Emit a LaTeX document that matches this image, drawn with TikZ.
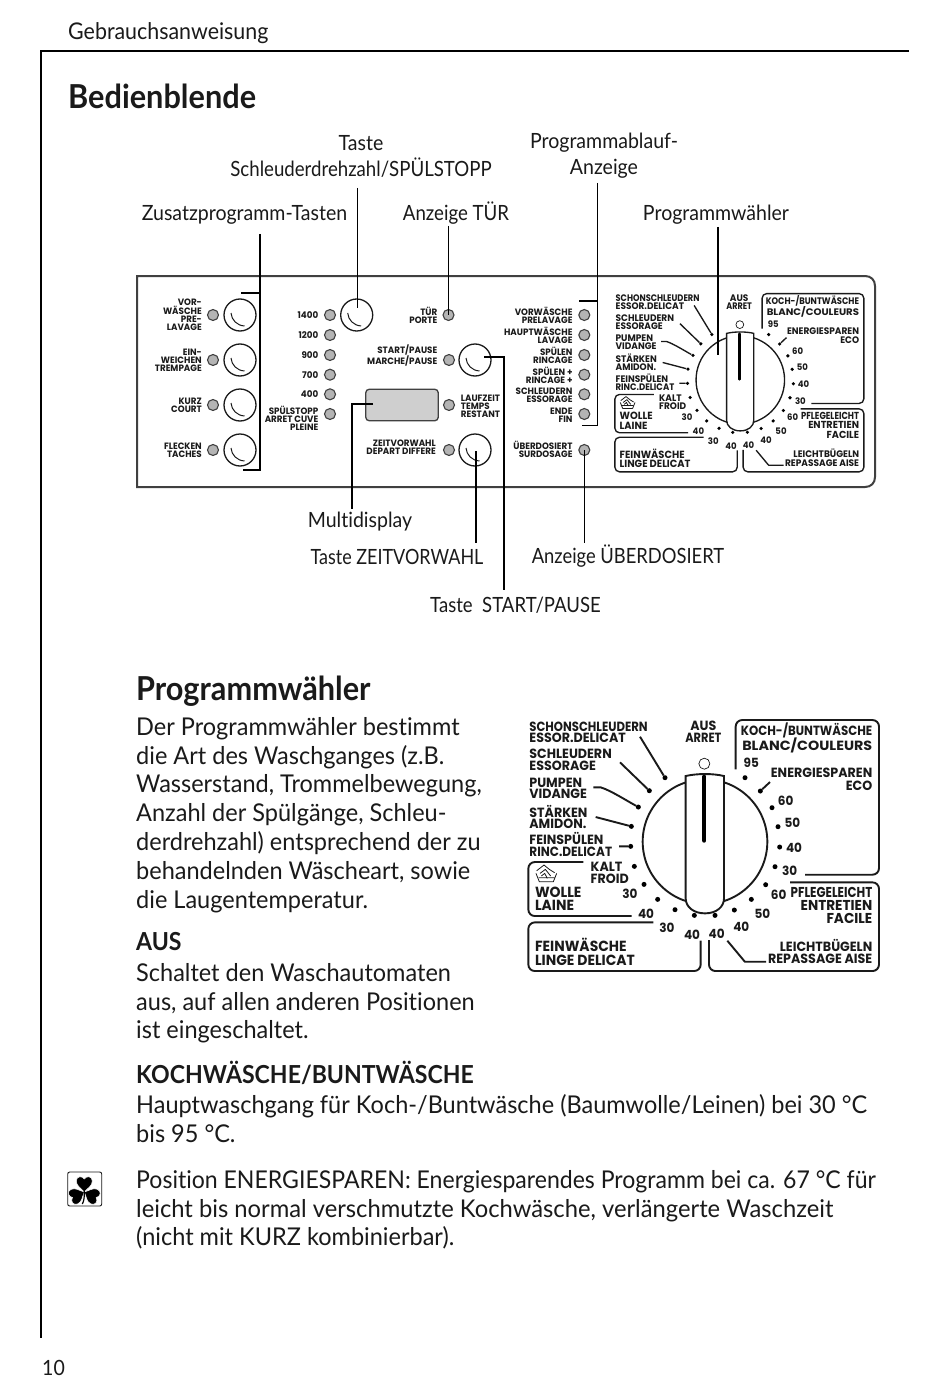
\documentclass[tikz,border=0pt]{standalone}
\usepackage{fontspec}
\setmainfont[FakeStretch=0.96,Ligatures={NoCommon}]{Lato}
\newfontfamily\capf[FakeStretch=0.93,Ligatures={NoCommon}]{Lato}
\newfontfamily\labfont[FakeStretch=0.95]{Poppins}
\usetikzlibrary{calc}
\newcommand{\sx}[2]{\scalebox{#1}[1]{#2}}
\definecolor{ink}{HTML}{1A1A1A}
\definecolor{panelline}{HTML}{404040}
\definecolor{ledfill}{HTML}{B4B4B4}
\definecolor{dispfill}{HTML}{CFCFCF}
\tikzset{
  bodytxt/.style={anchor=north west,align=left,inner sep=0pt,text=ink,font=\fontsize{24.5}{28.8}\selectfont},
  captxt/.style={inner sep=0pt,text=ink,font=\capf\fontsize{21}{26}\selectfont},
  headtxt/.style={anchor=west,inner sep=0pt,text=ink,font=\capf\fontsize{33}{36}\selectfont\bfseries},
  bodyhead/.style={anchor=west,inner sep=0pt,text=ink,font=\capf\fontsize{24.8}{30}\selectfont\bfseries},
  conn/.style={draw=black,line width=1.5pt},
  led/.style={circle,draw=panelline,fill=ledfill,line width=1.1pt,minimum size=11pt,inner sep=0pt},
  knobc/.style={circle,draw=ink,line width=1.3pt,minimum size=32pt,inner sep=0pt},
  pl/.style={inner sep=0pt,align=right,anchor=east,text=ink,font=\labfont\bfseries\fontsize{9.2}{8}\selectfont},
  pll/.style={inner sep=0pt,align=left,anchor=west,text=ink,font=\labfont\bfseries\fontsize{9.2}{8}\selectfont},
  dl/.style={inner sep=0pt,align=left,anchor=west,text=ink,transform shape,font=\labfont\bfseries\fontsize{40}{35}\selectfont},
  dr/.style={inner sep=0pt,align=right,anchor=east,text=ink,transform shape,font=\labfont\bfseries\fontsize{40}{36.5}\selectfont},
  dc/.style={inner sep=0pt,align=center,text=ink,transform shape,font=\labfont\bfseries\fontsize{40}{36}\selectfont},
  dbig/.style={inner sep=0pt,align=left,anchor=west,text=ink,transform shape,font=\labfont\bfseries\fontsize{44}{40}\selectfont},
  dn/.style={inner sep=0pt,text=ink,transform shape,font=\labfont\bfseries\fontsize{38}{38}\selectfont},
  ddot/.style={circle,fill=black,minimum size=15pt,inner sep=0pt,transform shape},
}
\newcommand{\knobarc}[1]{\draw[ink,line width=1pt] ([shift={(-9,-2)}]#1.center) .. controls ([shift={(-8.5,5)}]#1.center) and ([shift={(-3,10.5)}]#1.center) .. ([shift={(4.5,11)}]#1.center);}
\newcommand{\dial}[4]{%
\pgfmathsetmacro{\dlw}{#4*1.9}\pgfmathsetmacro{\drr}{#4*6.5}\pgfmathsetmacro{\ptrw}{#4*4}
\begin{scope}[shift={(#2,#3)},scale=#4/3,shift={(-555,-395)},name prefix=#1-,
  dbox/.style={draw=ink,line width=\dlw pt,rounded corners=\drr pt}]
  \path[dbox] (647,178) -- (647,30) -- (1077,30) -- (1077,494) -- (855,494);
  \path[dbox] (810,517) -- (1077,517) -- (1077,783) -- (567,783) -- (567,690);
  \path[dbox] (400,637) -- (25,637) -- (25,783) -- (542,783) -- (542,692);
  \path[dbox] (190,456) -- (25,456) -- (25,618) -- (335,618);
  \draw[ink,line width=\dlw pt] (555,395) circle[radius=187];
  \draw[ink,line width=\dlw pt,fill=white] (497,565) -- (497,198) .. controls (530,190) and (580,190) .. (612,198) -- (612,565) .. controls (612,590) and (590,610) .. (555,610) .. controls (520,610) and (497,590) .. (497,565) -- cycle;
  \draw[black,line width=\ptrw pt,line cap=round] (553,200) -- (553,392);
  \node[circle,draw=ink,line width=0.7pt,fill=white,minimum size=33pt,inner sep=0pt,transform shape] (off) at (553,161) {};
  \foreach \n/\x/\y in {a/435/203,b/388/242,c/355/291,d/334/349,e/332/409,f/343/469,g/372/523,h/413/568,i/465/599,j/523/616,k/585/616,l/643/600,m/694/568,n/737/524,o/765/470,p/779/411,q/774/350,r/756/293,s/721/243,t/675/203}
    \node[ddot] (\n) at (\x,\y) {};
  \coordinate (sa) at (360,80); \coordinate (sb) at (300,157); \coordinate (sc) at (220,232);
  \coordinate (sd) at (227,321); \coordinate (se) at (297,409); \coordinate (ss) at (750,216);
  \coordinate (rp) at (622,692); \coordinate (rq) at (738,755);
  \draw[ink,line width=\dlw pt] (sa) -- (a); \draw[ink,line width=\dlw pt] (sb) -- (b);
  \draw[ink,line width=\dlw pt] (sc) -- (242,232) .. controls (270,240) and (320,272) .. (c);
  \draw[ink,line width=\dlw pt] (sd) -- (d); \draw[ink,line width=\dlw pt] (se) -- (e);
  \draw[ink,line width=\dlw pt] (ss) -- (s);
  \draw[ink,line width=\dlw pt] (rp) -- (672,752) -- (675,755) -- (rq);
  \node[dl] (n1) at (28,67) {\sx{.92}{SCHONSCHLEUDERN}\\ESSOR.DELICAT};
  \node[dl] (n2) at (28,150) {SCHLEUDERN\\ESSORAGE};
  \node[dl] (n3) at (28,235) {PUMPEN\\VIDANGE};
  \node[dl] (n4) at (28,321) {STÄRKEN\\AMIDON.};
  \node[dl] (n5) at (28,403) {FEINSPÜLEN\\\sx{.95}{RINC.DELICAT}};
  \node[dl] (n6) at (212,488) {KALT\\FROID};
  \node[dbig] (n7) at (45,567) {WOLLE\\LAINE};
  \node[dbig] (n8) at (45,725) {FEINWÄSCHE\\LINGE DELICAT};
  \node[dc] (n9) at (550,66) {AUS\\\sx{.9}{ARRET}};
  \node[dr] (n10) at (1057,84) {\sx{.93}{KOCH-/BUNTWÄSCHE}\\\sx{1.13}{BLANC/COULEURS}};
  \node[dr] (n11) at (1057,208) {ENERGIESPAREN\\ECO};
  \node[dr,font=\labfont\bfseries\fontsize{43}{39}\selectfont] (n12) at (1057,586) {\sx{.87}{PFLEGELEICHT}\\ENTRETIEN\\FACILE};
  \node[dr] (n13) at (1057,724) {LEICHTBÜGELN\\REPASSAGE AISE};
  \foreach \n/\t/\x/\y in {a/95/694/159,b/60/797/272,c/50/817/339,d/40/822/413,e/30/809/483,f/60/776/553,g/50/727/610,h/40/664/651,i/40/590/671,j/40/516/675,k/30/441/652,l/40/378/610,m/30/330/551}
    \node[dn] (v\n) at (\x,\y) {\t};
  % wash icon
  \draw[ink,line width=0.8pt,line join=round] (48,490) -- (58,515) -- (100,515) -- (110,490);
  \draw[ink,line width=0.8pt,line join=round] (50,482) -- (72,465) -- (88,478) -- (104,488) (60,490) -- (76,478) -- (92,498) (64,498) -- (74,490) -- (82,505) (56,503) -- (104,503);
\end{scope}}
\begin{document}
\begin{tikzpicture}[x=1pt,y=-1pt]
\useasboundingbox (0,0) rectangle (950,1380);
\fill[white] (0,0) rectangle (950,1380);
\coordinate (ruleA) at (909,51); \coordinate (ruleB) at (41,51); \coordinate (ruleC) at (41,1338);
\draw[black,line width=1.7pt] (ruleA) -- (ruleB) -- (ruleC);
\node[captxt,anchor=west,font=\capf\fontsize{23}{26}\selectfont] (t-header) at (68,33) {Gebrauchsanweisung};
\node[headtxt] (t-bedien) at (68,96) {Bedienblende};
\node[captxt,anchor=west] (t-page) at (42,1368) {10};
% panel
\draw[panelline,line width=2pt] (137,276) -- (865,276) .. controls (871,276) and (875,280) .. (875,286) -- (875,477) .. controls (875,483) and (871,487) .. (865,487) -- (137,487) -- cycle;
\foreach \n/\x/\y in {A1/213/315,A2/213/360,A3/213/405,A4/213/450,
  B1/330/315,B2/330/335,B3/330/355,B4/330/374.7,B5/330/394.3,B6/330/414,
  T1/448.5/315,T2/449/360,T3/449/405,T4/449/450,
  C1/584.3/315,C2/584.3/335,C3/584.3/355,C4/584.3/374.7,C5/584.3/394.3,C6/584.3/414,C7/584.3/450}
  \node[led] (led\n) at (\x,\y) {};
\foreach \n/\x/\y in {k1/240/315,k2/240/360,k3/240/405,k4/240/450,k5/356.7/315,k6/475/360,k7/475/450}
  {\node[knobc] (\n) at (\x,\y) {}; \knobarc{\n}}
\node[draw=panelline,line width=1.3pt,fill=dispfill,rounded corners=3.5pt,minimum width=72.5pt,minimum height=31.5pt,inner sep=0pt] (disp) at (402,405) {};
\node[pl] (p1) at (202,315) {VOR-\\WÄSCHE\\PRE-\\LAVAGE};
\node[pl] (p2) at (202,360) {EIN-\\WEICHEN\\TREMPAGE};
\node[pl] (p3) at (202,405) {KURZ\\COURT};
\node[pl] (p4) at (202,450) {FLECKEN\\TACHES};
\foreach \n/\t/\y in {a/1400/315.3,b/1200/335,c/900/355,d/700/374.7,e/400/394.3}
  \node[pl] (p5\n) at (318.5,\y) {\t};
\node[pl] (p6) at (318.5,418) {SPÜLSTOPP\\ARRET CUVE\\PLEINE};
\node[pl] (p7) at (437.5,315) {TÜR\\PORTE};
\node[pl] (p8) at (437.5,355.5) {START/PAUSE\\MARCHE/PAUSE};
\node[pl] (p9) at (436,447) {ZEITVORWAHL\\DEPART DIFFERE};
\node[pll] (p10) at (460.7,406) {LAUFZEIT\\TEMPS\\RESTANT};
\node[pl] (p11) at (572.7,315) {VORWÄSCHE\\PRELAVAGE};
\node[pl] (p12) at (572.7,335) {HAUPTWÄSCHE\\LAVAGE};
\node[pl] (p13) at (572.7,355) {SPÜLEN\\RINCAGE};
\node[pl] (p14) at (572.7,375) {SPÜLEN +\\RINCAGE +};
\node[pl] (p15) at (572.7,395) {SCHLEUDERN\\ESSORAGE};
\node[pl] (p16) at (572.7,415) {ENDE\\FIN};
\node[pl] (p17) at (572.7,449) {ÜBERDOSIERT\\SURDOSAGE};
\dial{ds}{740.3}{380}{0.71}
% callouts
\node[captxt,align=center] (c1) at (361,156) {Taste\\\sx{.955}{Schleuderdrehzahl/SPÜLSTOPP}};
\node[captxt,align=center] (c2) at (604,156) {Programmablauf-\\Anzeige};
\node[captxt] (c3) at (244.5,215) {Zusatzprogramm-Tasten};
\node[captxt] (c4) at (456,213) {\sx{.955}{Anzeige TÜR}};
\node[captxt] (c5) at (716,215) {Programmwähler};
\node[captxt] (c6) at (360,522) {Multidisplay};
\node[captxt] (c7) at (397,557) {\sx{.92}{Taste ZEITVORWAHL}};
\node[captxt] (c8) at (628,556) {\sx{.94}{Anzeige ÜBERDOSIERT}};
\node[captxt] (c9) at (515.5,605.5) {\sx{.95}{Taste\ \ START/PAUSE}};
\coordinate (z1) at (260,234); \coordinate (z2) at (260,293); \coordinate (z3) at (241,293);
\coordinate (z4) at (260,470); \coordinate (z5) at (243,470);
\draw[conn] (z1) -- (z4) -- (z5); \draw[conn] (z3) -- (z2);
\coordinate (s1) at (357.7,188); \coordinate (s2) at (357.7,308);
\draw[conn] (s1) -- (s2);
\coordinate (t1) at (448.5,226);
\draw[conn] (t1) -- (ledT1.center);
\coordinate (q1) at (597.5,183); \coordinate (q2) at (597.5,425.7); \coordinate (q3) at (581.5,425.7); \coordinate (q4) at (597.5,301); \coordinate (q5) at (579,301);
\draw[conn] (q1) -- (q2) -- (q3); \draw[conn] (q4) -- (q5);
\coordinate (w1) at (718,227); \coordinate (w2) at (718,355);
\draw[conn] (w1) -- (w2);
\coordinate (m1) at (373,404); \coordinate (m2) at (352,404); \coordinate (m3) at (352,509);
\draw[conn] (m1) -- (m2) -- (m3);
\coordinate (y1) at (476,451); \coordinate (y2) at (476,543);
\draw[conn] (y1) -- (y2);
\coordinate (x1) at (484,357); \coordinate (x2) at (504,357); \coordinate (x3) at (504,590);
\draw[conn,line width=1.8pt] (x1) -- (x2) -- (x3);
\coordinate (u2) at (584.3,543);
\draw[conn] (ledC7.center) -- (u2);
% Programmwaehler text
\node[headtxt] (t-prog) at (136,691) {Programmwähler};
\node[bodytxt] (b1) at (136,717) {Der Programmwähler bestimmt\\die Art des Waschganges (z.B.\\Wasserstand, Trommelbewegung,\\Anzahl der Spülgänge, Schleu-\\derdrehzahl) entsprechend der zu\\behandelnden Wäscheart, sowie\\die Laugentemperatur.};
\node[bodyhead] (b2) at (136,942) {AUS};
\node[bodytxt] (b3) at (136,963) {Schaltet den Waschautomaten\\aus, auf allen anderen Positionen\\ist eingeschaltet.};
\node[bodyhead] (b4) at (136,1073) {KOCHWÄSCHE/BUNTWÄSCHE};
\node[bodytxt] (b5) at (136,1094) {Hauptwaschgang für Koch-/Buntwäsche (Baumwolle/Leinen) bei 30 °C\\bis 95 °C.};
\node[bodytxt] (b6) at (136,1170) {\sx{.98}{Position ENERGIESPAREN: Energiesparendes Programm bei ca. 67 °C für}\\\sx{1.01}{leicht bis normal verschmutzte Kochwäsche, verlängerte Waschzeit}\\(nicht mit KURZ kombinierbar).};
\dial{db}{705}{841.7}{1}
% shamrock
\node[draw=ink,line width=0.9pt,rounded corners=2pt,minimum size=34pt,inner sep=0pt] (clover) at (84.7,1189) {};
\foreach \r in {0,115,-115}
  \fill[black,draw=white,line width=0.5pt,rotate around={\r:(84.3,1192)}] (84.3,1192) .. controls (81,1188) and (76.3,1186) .. (76.3,1181) .. controls (76.3,1176) and (82.3,1175.5) .. (84.3,1179) .. controls (86.3,1175.5) and (92.3,1176) .. (92.3,1181) .. controls (92.3,1186) and (87.6,1188) .. (84.3,1192) -- cycle;
\coordinate (st1) at (84.3,1191); \coordinate (st2) at (82.3,1204);
\draw[black,line width=1.2pt] (st1) .. controls (84.5,1197) and (84,1201) .. (st2);
\end{tikzpicture}
\end{document}
